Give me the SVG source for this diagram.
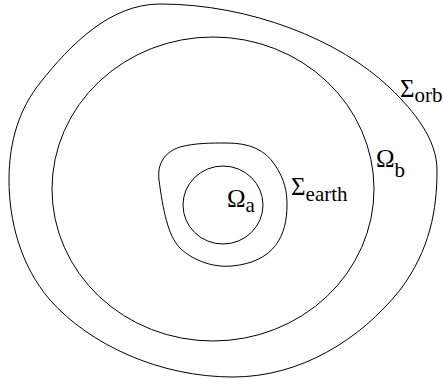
<svg xmlns="http://www.w3.org/2000/svg" width="443" height="380" viewBox="0 0 443 380">
<style>
.c{fill:none;stroke:#000;stroke-width:1}
.t{font-family:"Liberation Serif","Times New Roman",serif;font-size:25px;fill:#000}
.s{font-size:21px}
</style>
<rect width="443" height="380" fill="#fff"/>
<g id="orbit">
<path class="c" d="M160,4 C250,4 340,40 390,88 C415,112 437,140 437,170 C437,210 430,250 400,290 C360,340 300,377 233,377 C160,377 90,345 50,300 C20,265 9,220 9,180 C9,140 20,108 40,83 C70,45 110,4 160,4 Z"/>
<text class="t" x="400" y="97">Σ<tspan class="s" dy="5">orb</tspan></text>
</g>
<g id="omega-b">
<ellipse class="c" cx="213" cy="189" rx="161" ry="152"/>
<text class="t" x="376" y="167">Ω<tspan class="s" dy="10">b</tspan></text>
</g>
<g id="earth">
<path class="c" d="M227,143 C250,143 265,150 275,165 C285,180 287,192 287,205 C287,235 275,262 232,266 C210,268 190,258 180,248 C168,236 163,210 159,180 C157,163 165,152 180,147 C195,143 210,143 227,143 Z"/>
<text class="t" x="291" y="195">Σ<tspan class="s" dy="6">earth</tspan></text>
</g>
<g id="omega-a">
<ellipse class="c" cx="223" cy="205" rx="40" ry="39"/>
<text class="t" x="227" y="207">Ω<tspan class="s" dy="5">a</tspan></text>
</g>
</svg>
